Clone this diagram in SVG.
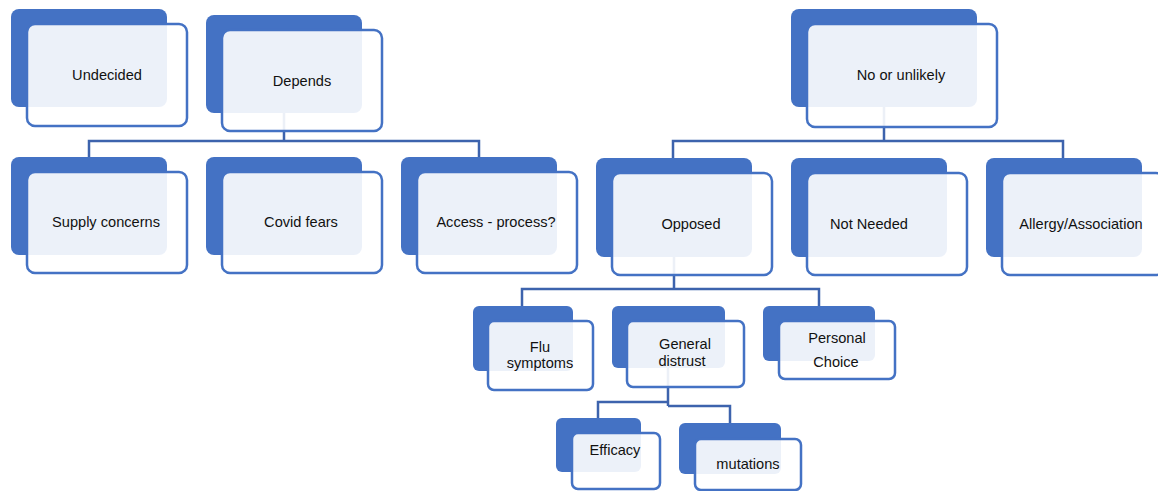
<svg xmlns="http://www.w3.org/2000/svg" width="1158" height="491" viewBox="0 0 1158 491">
<style>
.bk{fill:#4472C4}
.fr{fill:#ffffff;fill-opacity:0.9;stroke:#4472C4;stroke-width:2.5}
.cn{fill:none;stroke:#3D63AD;stroke-width:2.5}
text{font-family:"Liberation Sans",Arial,sans-serif;font-size:14.6px;fill:#111;text-anchor:middle}
</style>
<rect width="1158" height="491" fill="#ffffff"/>
<g id="connectors">
<path class="cn" d="M284,113 V141 M89,157 V141 H479 V157"/>
<path class="cn" d="M884,107 V141 M673,158 V141 H1063 V158"/>
<path class="cn" d="M674,257 V289 M522,306 V289 H819 V306"/>
<path class="cn" d="M668,368 V406 M598,418 V402 H668 M668,406 H730 V423"/>
</g>
<g id="n-undecided"><rect class="bk" x="11" y="9" width="156" height="98" rx="8"/><rect class="fr" x="27" y="24" width="160" height="102" rx="8"/><text x="107" y="80">Undecided</text></g>
<g id="n-depends"><rect class="bk" x="206" y="15" width="156" height="98" rx="8"/><rect class="fr" x="222" y="30" width="160" height="101" rx="8"/><text x="302" y="86">Depends</text></g>
<g id="n-supply"><rect class="bk" x="11" y="157" width="156" height="98" rx="8"/><rect class="fr" x="27" y="172" width="160" height="101" rx="8"/><text x="106" y="227">Supply concerns</text></g>
<g id="n-covid"><rect class="bk" x="206" y="157" width="156" height="98" rx="8"/><rect class="fr" x="222" y="172" width="160" height="101" rx="8"/><text x="301" y="227">Covid fears</text></g>
<g id="n-access"><rect class="bk" x="401" y="157" width="156" height="98" rx="8"/><rect class="fr" x="417" y="172" width="160" height="101" rx="8"/><text x="496" y="227">Access - process?</text></g>
<g id="n-no"><rect class="bk" x="791" y="9" width="186" height="98" rx="8"/><rect class="fr" x="807" y="24" width="190" height="103" rx="8"/><text x="901" y="80">No or unlikely</text></g>
<g id="n-opposed"><rect class="bk" x="596" y="158" width="156" height="99" rx="8"/><rect class="fr" x="612" y="173" width="160" height="102" rx="8"/><text x="691" y="229">Opposed</text></g>
<g id="n-notneeded"><rect class="bk" x="791" y="158" width="156" height="99" rx="8"/><rect class="fr" x="807" y="173" width="160" height="102" rx="8"/><text x="869" y="229">Not Needed</text></g>
<g id="n-allergy"><rect class="bk" x="986" y="158" width="156" height="99" rx="8"/><rect class="fr" x="1002" y="173" width="162" height="102" rx="8"/><text x="1081" y="229">Allergy/Association</text></g>
<g id="n-flu"><rect class="bk" x="473" y="306" width="100" height="65" rx="6"/><rect class="fr" x="488" y="321" width="105" height="69" rx="6"/><text x="540" y="352">Flu</text><text x="540" y="368">symptoms</text></g>
<g id="n-distrust"><rect class="bk" x="612" y="306" width="113" height="62" rx="6"/><rect class="fr" x="627" y="321" width="117" height="66" rx="6"/><text x="685" y="349">General</text><text x="682" y="366">distrust</text></g>
<g id="n-personal"><rect class="bk" x="763" y="306" width="112" height="55" rx="6"/><rect class="fr" x="779" y="321" width="116" height="58" rx="6"/><text x="837" y="343">Personal</text><text x="836" y="367">Choice</text></g>
<g id="n-efficacy"><rect class="bk" x="556" y="418" width="85" height="54" rx="6"/><rect class="fr" x="572" y="433" width="88" height="56" rx="6"/><text x="615" y="455">Efficacy</text></g>
<g id="n-mutations"><rect class="bk" x="679" y="423" width="102" height="51" rx="6"/><rect class="fr" x="695" y="439" width="106" height="51" rx="6"/><text x="748" y="469">mutations</text></g>
</svg>
